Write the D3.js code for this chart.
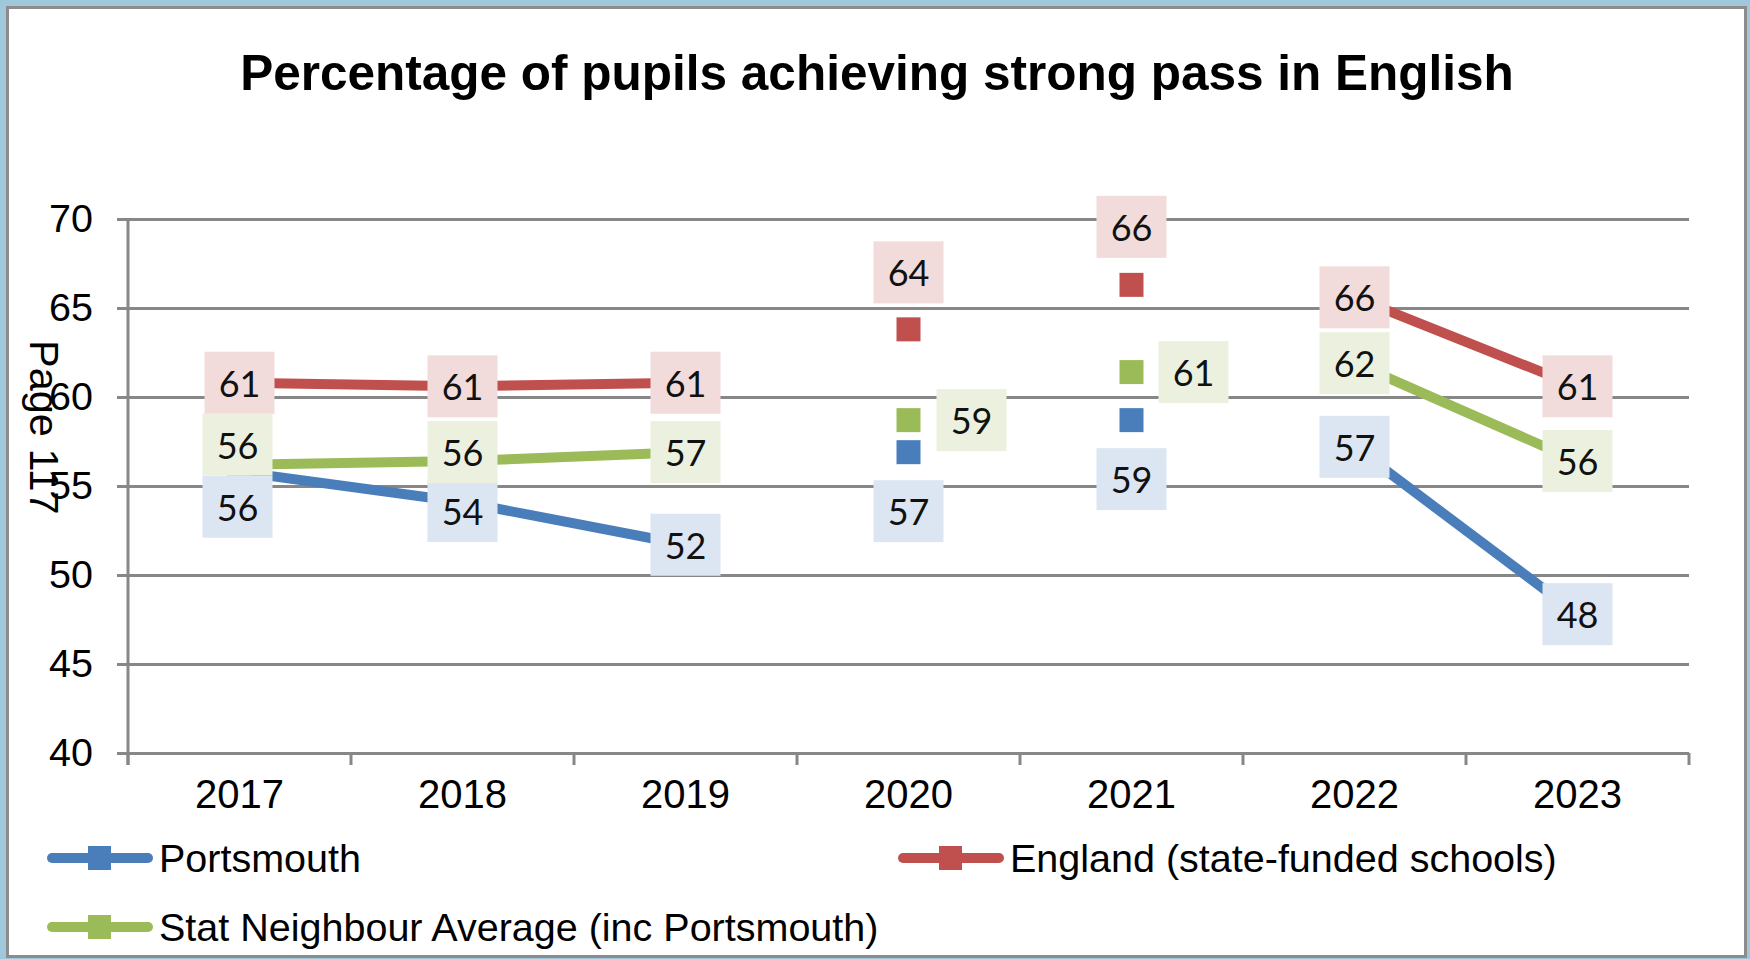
<!DOCTYPE html>
<html>
<head>
<meta charset="utf-8">
<script src="https://cdn.jsdelivr.net/npm/d3@7"></script>
<style>
  html, body { margin: 0; padding: 0; background: #a0c8dc; }
  svg { display: block; }
  text { font-family: "Liberation Sans", Arial, sans-serif; }
</style>
</head>
<body>
<svg id="chart" width="1750" height="959"></svg>
<script>
// Percentage of pupils achieving a strong pass (grade 5+) in English
const years = ["2017", "2018", "2019", "2020", "2021", "2022", "2023"];
const portsmouth = [55.8, 54.1, 51.7, 56.9, 58.7, 57.2, 47.8];
const england = [60.8, 60.6, 60.8, 63.8, 66.3, 65.6, 60.6];
const statNeighbour = [56.2, 56.4, 56.9, 58.7, 61.4, 61.9, 56.4];
// 2020 and 2021 (teacher-assessed years) are shown as stand-alone points
const joined = [true, true, true, false, false, true, true];
const yTicks = [40, 45, 50, 55, 60, 65, 70];

const series = [
  { key: "ports", name: "Portsmouth", values: portsmouth, color: "#4a7ebb", fill: "#dce6f2" },
  { key: "england", name: "England (state-funded schools)", values: england, color: "#c0504d", fill: "#f2dcdb" },
  { key: "stat", name: "Stat Neighbour Average (inc Portsmouth)", values: statNeighbour, color: "#9bbb59", fill: "#ebf1de" }
];

// Offsets (px) of each data-label box from its point, so the labels do not collide
const labelShift = {
  england: [[0, 0], [0, 0], [0, 0], [0, -57], [0, -58], [0, 0], [0, 0]],
  stat:    [[-2, -20], [0, -9], [0, 0], [63, 0], [62, 0], [0, 0], [0, 0]],
  ports:   [[-2, 35], [0, 9], [0, 0], [0, 59], [0, 59], [0, 0], [0, 0]]
};

const svg = d3.select("#chart");

// Chart frame
svg.append("rect")
  .attr("x", 7.5).attr("y", 7.5)
  .attr("width", 1738).attr("height", 949)
  .attr("fill", "#ffffff")
  .attr("stroke", "#8c8c8c").attr("stroke-width", 3);

const plot = { left: 128, right: 1689, top: 219, bottom: 753 };

const x = d3.scaleBand().domain(years).range([plot.left, plot.right]).padding(0);
const y = d3.scaleLinear().domain([40, 70]).range([plot.bottom, plot.top]);
const cx = i => x(years[i]) + x.bandwidth() / 2;

const gridColor = "#878787";

// Horizontal gridlines with left tick stubs
const yAxis = svg.append("g")
  .attr("transform", `translate(${plot.left},0)`)
  .call(d3.axisLeft(y).tickValues(yTicks).tickSize(11).tickPadding(24).tickFormat(d3.format("d")));
yAxis.select(".domain").remove();
yAxis.selectAll(".tick line").attr("stroke", gridColor).attr("stroke-width", 3);
yAxis.selectAll(".tick text")
  .attr("fill", "#000").attr("font-size", 39.5)
  .style("font-family", "'Liberation Sans', Arial, sans-serif");

const grid = svg.append("g")
  .attr("transform", `translate(${plot.left},0)`)
  .call(d3.axisRight(y).tickValues(yTicks).tickSize(plot.right - plot.left).tickFormat(""));
grid.select(".domain").remove();
grid.selectAll(".tick line").attr("stroke", gridColor).attr("stroke-width", 3);

// Vertical axis line
svg.append("line")
  .attr("x1", plot.left).attr("x2", plot.left)
  .attr("y1", plot.top).attr("y2", plot.bottom + 12)
  .attr("stroke", gridColor).attr("stroke-width", 3);

// Category axis: labels centred in each band, tick marks on band edges
const xAxis = svg.append("g")
  .attr("transform", `translate(0,${plot.bottom})`)
  .call(d3.axisBottom(x).tickSize(0).tickPadding(27));
xAxis.select(".domain").remove();
xAxis.selectAll(".tick text")
  .attr("fill", "#000").attr("font-size", 40)
  .style("font-family", "'Liberation Sans', Arial, sans-serif");

const edges = d3.range(years.length + 1).map(i => plot.left + i * x.bandwidth());
svg.append("g").selectAll("line").data(edges).join("line")
  .attr("x1", d => d).attr("x2", d => d)
  .attr("y1", plot.bottom).attr("y2", plot.bottom + 12)
  .attr("stroke", gridColor).attr("stroke-width", 3);

// Lines
const line = d3.line()
  .defined((d, i) => joined[i])
  .x((d, i) => cx(i))
  .y(d => y(d));

const marks = svg.append("g");
series.forEach(s => {
  marks.append("path")
    .datum(s.values)
    .attr("d", line)
    .attr("fill", "none")
    .attr("stroke", s.color)
    .attr("stroke-width", 10)
    .attr("stroke-linejoin", "round");
});

// Square markers
const mSize = 24;
series.forEach(s => {
  marks.append("g").selectAll("rect").data(s.values).join("rect")
    .attr("x", (d, i) => cx(i) - mSize / 2)
    .attr("y", d => y(d) - mSize / 2)
    .attr("width", mSize).attr("height", mSize)
    .attr("fill", s.color);
});

// Data labels
const boxW = 70, boxH = 62;
const labels = svg.append("g");
series.forEach(s => {
  const g = labels.append("g").selectAll("g").data(s.values).join("g")
    .attr("transform", (d, i) => {
      const [dx, dy] = labelShift[s.key][i];
      return `translate(${cx(i) + dx},${y(d) + dy})`;
    });
  g.append("rect")
    .attr("x", -boxW / 2).attr("y", -boxH / 2)
    .attr("width", boxW).attr("height", boxH)
    .attr("fill", s.fill);
  g.append("text")
    .attr("text-anchor", "middle")
    .attr("y", 14)
    .attr("font-size", 36)
    .style("font-family", "Lato, 'Open Sans', sans-serif")
    .attr("fill", "#111")
    .text(d => d3.format(".0f")(d));
});

// Legend
const legendItems = [
  { s: series[0], x: 47, y: 858 },
  { s: series[1], x: 898, y: 858 },
  { s: series[2], x: 47, y: 927 }
];
const lg = svg.append("g").selectAll("g").data(legendItems).join("g")
  .attr("transform", d => `translate(${d.x},${d.y})`);
lg.append("line")
  .attr("x1", 5).attr("x2", 101)
  .attr("stroke", d => d.s.color)
  .attr("stroke-width", 10)
  .attr("stroke-linecap", "round");
lg.append("rect")
  .attr("x", 41).attr("y", -12)
  .attr("width", 23).attr("height", 24)
  .attr("fill", d => d.s.color);
lg.append("text")
  .attr("x", 112).attr("y", 14)
  .attr("font-size", 39.5)
  .attr("fill", "#000")
  .text(d => d.s.name);

// Title
svg.append("text")
  .attr("x", 877).attr("y", 90)
  .attr("text-anchor", "middle")
  .attr("font-size", 49.5)
  .attr("font-weight", "bold")
  .attr("fill", "#000")
  .text("Percentage of pupils achieving strong pass in English");

// Page number running down the margin
svg.append("text")
  .attr("transform", "translate(30,340) rotate(90)")
  .attr("font-size", 41.5)
  .attr("fill", "#000")
  .text("Page 117");
</script>
</body>
</html>
